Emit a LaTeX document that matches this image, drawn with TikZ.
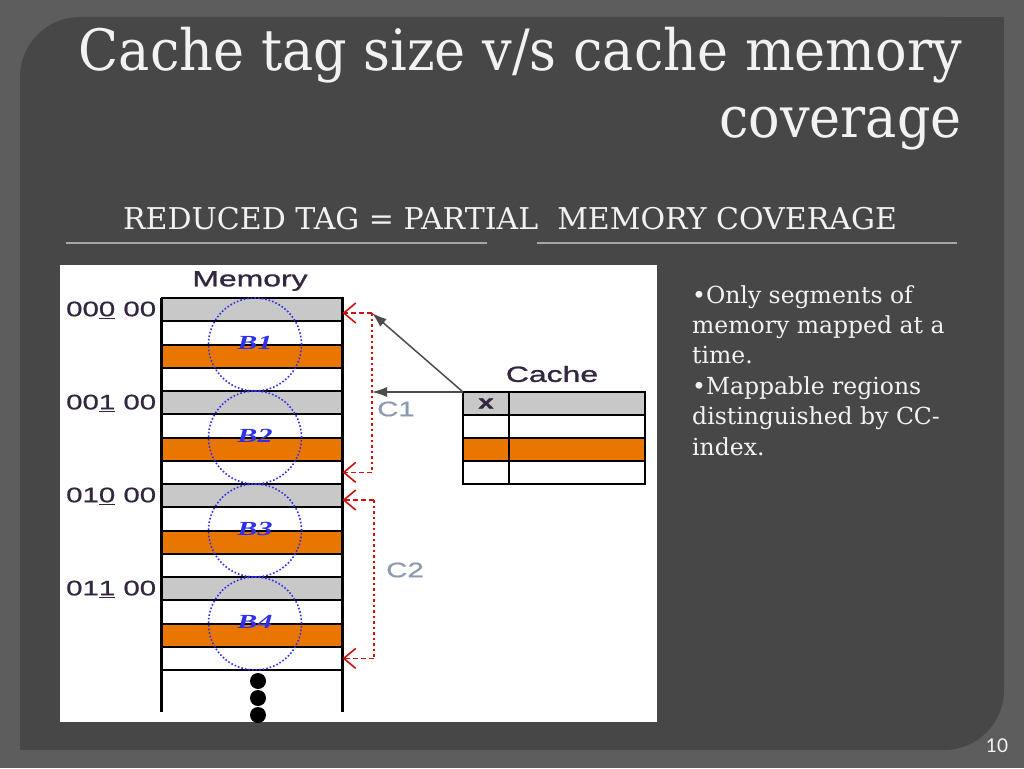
\documentclass[tikz,border=0pt]{standalone}
\usepackage{fontspec}
\setmainfont{DejaVu Serif}
\newfontfamily\titlefont[FakeStretch=0.92]{DejaVu Serif}
\newfontfamily\headfont[FakeStretch=1.0]{DejaVu Serif}
\newfontfamily\figfont[FakeStretch=1.45, FakeBold=1.2]{Liberation Sans}
\newfontfamily\addrfont[FakeStretch=1.4, FakeBold=0.8]{Liberation Sans}
\newfontfamily\blockfont[FakeStretch=1.5]{Liberation Serif}
\newfontfamily\pagefont{Lato}
\usetikzlibrary{positioning}
\usetikzlibrary{arrows.meta}
\definecolor{outer colour}{HTML}{5D5D5D}
\definecolor{panel colour}{HTML}{474747}
\definecolor{slide text}{HTML}{F2F2F2}
\definecolor{rule colour}{HTML}{A6A6A6}
\definecolor{slot grey}{HTML}{C8C8C8}
\definecolor{slot orange}{HTML}{E97600}
\definecolor{ring colour}{HTML}{3030E8}
\definecolor{map colour}{HTML}{CC1111}
\definecolor{addr colour}{HTML}{33263F}
\definecolor{range colour}{HTML}{8C9BB0}
\tikzset{
    % Slide furniture
    panel/.style={fill=panel colour},
    rule/.style={draw=rule colour, line width=2.5pt},
%
    % Memory and cache slots
    mem row/.style={
        draw, rectangle, line width=2pt, inner sep=0, outer sep=0,
        minimum width=181pt, minimum height=23.25pt},
    cache cell/.style={
        draw, rectangle, line width=2pt, inner sep=0, outer sep=0,
        minimum height=23pt},
    mem side/.style={line width=3pt},
    block ring/.style={
        draw=ring colour, circle, dotted, line width=1.6pt,
        minimum size=93pt, inner sep=0},
    block label/.style={
        text=ring colour, font=\blockfont\fontsize{20}{20}\selectfont\bfseries\itshape},
    more dot/.style={fill, circle, inner sep=0, minimum size=16pt},
%
    % Labels
    addr label/.style={anchor=west, text=addr colour, inner sep=0,
        font=\addrfont\fontsize{21}{21}\selectfont},
    fig label/.style={text=addr colour, inner sep=0,
        font=\figfont\fontsize{22}{22}\selectfont},
    range label/.style={text=range colour, inner sep=0,
        font=\addrfont\fontsize{21}{21}\selectfont},
%
    % Lines
    pointer/.style={draw=black!70, line width=1.5pt,
        -{Latex[length=15pt, width=10pt]}},
    map/.style={draw=map colour, line width=1.6pt, dash pattern=on 5pt off 3pt,
        -{Straight Barb[length=12pt, width=20pt]}},
    map dots/.style={draw=map colour, line width=2.4pt, dash pattern=on 2.5pt off 3pt},
}

\begin{document}
\begin{tikzpicture}[x=1pt, y=-1pt]

\useasboundingbox (0,0) rectangle (1024,768);
\fill [outer colour] (0,0) rectangle (1024,768);
\fill [panel, rounded corners=60pt] (20,17) rectangle (1004,750);
\fill [panel] (900,17) rectangle (1004,120);
\fill [panel] (20,650) rectangle (120,750);

\node [anchor=north east, align=right, inner sep=0, text=slide text,
    font=\titlefont\fontsize{57}{67}\selectfont] (title) at (962,27)
    {Cache tag size v/s cache memory\\coverage};

\node [anchor=base, inner sep=0, text=slide text,
    font=\headfont\fontsize{30}{30}\selectfont] (subtitle) at (510,229)
    {REDUCED TAG = PARTIAL \ MEMORY COVERAGE};
\draw [rule] (66,243) -- (487,243);
\draw [rule] (537,243) -- (957,243);

\node [anchor=north west, align=left, inner sep=0, text=slide text,
    font=\fontsize{23.5}{30.4}\selectfont] (notes) at (692,285)
    {•Only segments of\\memory mapped at a\\time.\\•Mappable regions\\distinguished by CC-\\index.};

\node [text=slide text!85, font=\pagefont\fontsize{19}{19}\selectfont] (page) at (997,746) {10};

% The figure
\fill [white] (60,265) rectangle (657,722);

\foreach \i in {0,...,15} {
    \pgfmathtruncatemacro\k{mod(\i,4)}
    \ifcase\k \def\rowfill{slot grey}\or \def\rowfill{white}\or
        \def\rowfill{slot orange}\or \def\rowfill{white}\fi
    \node [mem row, fill=\rowfill] (m\i) at (252,{298+23.25*(\i+0.5)}) {};
}
\coordinate (mem end) at (252,712);
\draw [mem side] (m0.north west) -- (m0.north west |- mem end);
\draw [mem side] (m0.north east) -- (m0.north east |- mem end);

\foreach \b/\r in {1/1, 2/5, 3/9, 4/13} {
    \node [block ring, xshift=3pt] (b\b) at (m\r.south) {};
    \node [block label] at ([yshift=2pt]b\b.center) {B\b};
}
\node [addr label] (a0) at (66,310) {00\underline{0} 00};
\node [addr label] (a1) at (66,403) {00\underline{1} 00};
\node [addr label] (a2) at (66,496) {01\underline{0} 00};
\node [addr label] (a3) at (66,589) {01\underline{1} 00};

\node [more dot] (dot1) at (258,681) {};
\node [more dot] (dot2) at (258,698) {};
\node [more dot] (dot3) at (258,715) {};

\node [fig label] (memory) at (250,281) {Memory};

% Cache
\foreach \i in {0,...,3} {
    \def\rowfill{white}
    \ifnum\i=0 \def\rowfill{slot grey}\fi
    \ifnum\i=2 \def\rowfill{slot orange}\fi
    \node [cache cell, fill=\rowfill, minimum width=46pt] (t\i) at (486,{392+23*(\i+0.5)}) {};
    \node [cache cell, fill=\rowfill, minimum width=136pt] (d\i) at (577,{392+23*(\i+0.5)}) {};
}
\node [fig label, font=\figfont\fontsize{19}{19}\selectfont\bfseries] at (t0) {x};
\node [fig label] (cache) at (552,374) {Cache};

% Mapped ranges
\coordinate (c1 top) at (372,313);
\coordinate (c2 top) at (374,500);
\draw [pointer] (t0.north west) -- (c1 top);
\draw [pointer] (t0.north west) -- (t0.north west -| c1 top);

\draw [map] (c1 top) -- (c1 top -| m0.east);
\draw [map dots] (c1 top) -- (c1 top |- m7.east);
\draw [map] (c1 top |- m7.east) -- (m7.east);
\node [range label] (c1) at (396,409) {C1};

\draw [map] (c2 top) -- (c2 top -| m8.east);
\draw [map dots] (c2 top) -- (c2 top |- m15.east);
\draw [map] (c2 top |- m15.east) -- (m15.east);
\node [range label] (c2) at (405,570) {C2};

\end{tikzpicture}
\end{document}
